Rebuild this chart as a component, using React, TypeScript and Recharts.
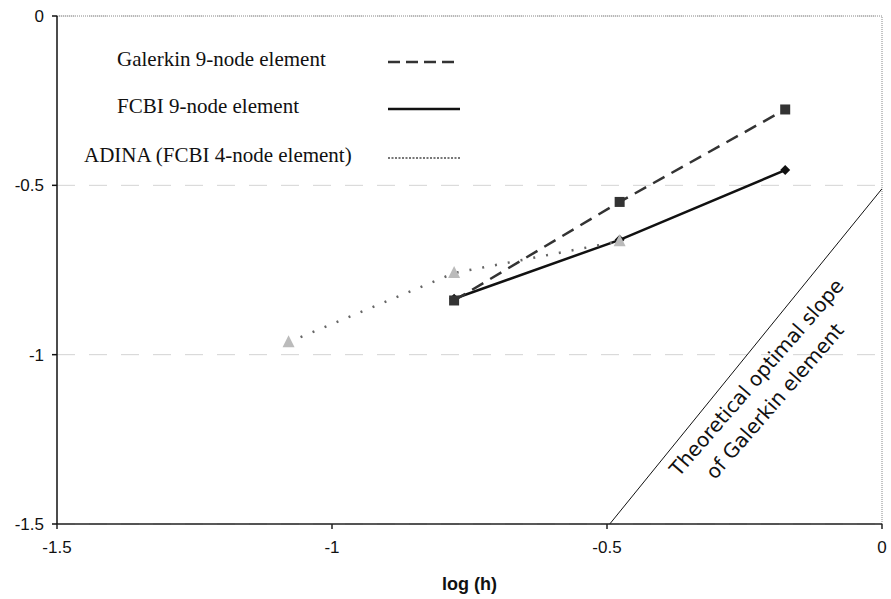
import React from 'react';
import {
  ComposedChart,
  Line,
  XAxis,
  YAxis,
  CartesianGrid,
  ReferenceLine,
  ReferenceDot,
} from 'recharts';

// log(h) for the 9-node meshes
const logH = [-0.778, -0.477, -0.176];
const galerkinErr = [-0.84, -0.549, -0.276];
const fcbiErr = [-0.835, -0.661, -0.455];

// ADINA 4-node meshes
const adinaLogH = [-1.079, -0.778, -0.477];
const adinaErr = [-0.963, -0.759, -0.665];

// theoretical slope-2 reference line
const slopeX = [-0.495, 0];
const slopeY = [-1.5, -0.51];

const xTicks = [-1.5, -1, -0.5, 0];
const yTicks = [0, -0.5, -1, -1.5];

const slopeText = ['Theoretical optimal slope', 'of Galerkin element'];
const slopeTextPos = [
  { x: -0.226, y: -1.07 },
  { x: -0.193, y: -1.14 },
];

const legendItems = [
  { label: 'Galerkin 9-node element', dash: '12 6', color: '#333', width: 2.5, textX: 117, y: 47 },
  { label: 'FCBI 9-node element', dash: undefined, color: '#111', width: 2.5, textX: 117, y: 94 },
  { label: 'ADINA (FCBI 4-node element)', dash: '2 1.5', color: '#777', width: 2, textX: 84, y: 143 },
];

const toPoints = (xs: number[], ys: number[]) => xs.map((x, i) => ({ x, y: ys[i] }));

const galerkinData = toPoints(logH, galerkinErr);
const fcbiData = toPoints(logH, fcbiErr);
const adinaData = toPoints(adinaLogH, adinaErr);
const slopeData = toPoints(slopeX, slopeY);

const Square = (props: any) => {
  const { cx, cy, index } = props;
  if (cx == null || cy == null) return <g key={index} />;
  return <rect key={index} x={cx - 5} y={cy - 5} width={10} height={10} fill="#333" />;
};

const Diamond = (props: any) => {
  const { cx, cy, index } = props;
  if (cx == null || cy == null) return <g key={index} />;
  return (
    <polygon
      key={index}
      points={`${cx},${cy - 5} ${cx + 5},${cy} ${cx},${cy + 5} ${cx - 5},${cy}`}
      fill="#111"
    />
  );
};

const Triangle = (props: any) => {
  const { cx, cy, index } = props;
  if (cx == null || cy == null) return <g key={index} />;
  return (
    <polygon
      key={index}
      points={`${cx},${cy - 7} ${cx + 6},${cy + 5} ${cx - 6},${cy + 5}`}
      fill="#bbb"
    />
  );
};

const SlopeLabel = (text: string) => (props: any) => {
  const { cx, cy } = props;
  return (
    <text
      x={cx}
      y={cy}
      transform={`rotate(-49, ${cx}, ${cy})`}
      textAnchor="middle"
      dominantBaseline="middle"
      fontFamily='"DejaVu Sans", sans-serif'
      fontSize={20}
      fill="#111"
    >
      {text}
    </text>
  );
};

function ChartLegend() {
  return (
    <>
      {legendItems.map((item) => (
        <div key={item.label}>
          <span
            style={{
              position: 'absolute',
              left: item.textX,
              top: item.y,
              whiteSpace: 'nowrap',
              fontFamily: '"Liberation Serif", "Times New Roman", serif',
              fontSize: 21,
              color: '#111',
            }}
          >
            {item.label}
          </span>
          <svg style={{ position: 'absolute', left: 386, top: item.y + 7 }} width={78} height={16}>
            <line x1={2} y1={8} x2={74} y2={8} stroke={item.color} strokeWidth={item.width} strokeDasharray={item.dash} />
          </svg>
        </div>
      ))}
    </>
  );
}

const tickFont = { fill: '#111', fontSize: 17, fontFamily: '"Liberation Sans", Arial, sans-serif' };

export default function App() {
  return (
    <div style={{ position: 'absolute', left: 0, top: 0, width: 891, height: 599, background: '#fff' }}>
      <ComposedChart width={891} height={599} margin={{ top: 16, right: 9, bottom: 0, left: 0 }}>
        <CartesianGrid vertical={false} stroke="#d4d4d4" strokeDasharray="18 14" />
        <ReferenceLine y={0} stroke="#888" strokeDasharray="1 1" />
        <ReferenceLine x={0} stroke="#888" strokeDasharray="1 1" />
        <XAxis
          type="number"
          dataKey="x"
          domain={[-1.5, 0]}
          ticks={xTicks}
          tickSize={5}
          tickMargin={12}
          height={75}
          stroke="#222"
          strokeWidth={1.5}
          allowDataOverflow
          tick={tickFont}
          label={{
            value: 'log (h)',
            position: 'insideBottom',
            offset: 9,
            fill: '#111',
            fontSize: 18,
            fontWeight: 'bold',
            fontFamily: '"Liberation Sans", Arial, sans-serif',
          }}
        />
        <YAxis
          type="number"
          dataKey="y"
          domain={[-1.5, 0]}
          ticks={yTicks}
          width={57}
          tickSize={5}
          tickMargin={8}
          stroke="#111"
          strokeWidth={1.5}
          allowDataOverflow
          tick={tickFont}
        />
        <Line
          data={slopeData}
          dataKey="y"
          stroke="#111"
          strokeWidth={1}
          dot={false}
          legendType="none"
          isAnimationActive={false}
        />
        <Line
          data={fcbiData}
          dataKey="y"
          name="FCBI 9-node element"
          stroke="#111"
          strokeWidth={2.5}
          dot={Diamond}
          isAnimationActive={false}
        />
        <Line
          data={adinaData}
          dataKey="y"
          name="ADINA (FCBI 4-node element)"
          stroke="#666"
          strokeWidth={2.5}
          strokeDasharray="2 11"
          dot={Triangle}
          isAnimationActive={false}
        />
        <Line
          data={galerkinData}
          dataKey="y"
          name="Galerkin 9-node element"
          stroke="#333"
          strokeWidth={2.5}
          strokeDasharray="13 8"
          dot={Square}
          isAnimationActive={false}
        />
        {slopeText.map((t, i) => (
          <ReferenceDot
            key={t}
            x={slopeTextPos[i].x}
            y={slopeTextPos[i].y}
            r={0}
            shape={SlopeLabel(t)}
          />
        ))}
      </ComposedChart>
      <ChartLegend />
    </div>
  );
}
